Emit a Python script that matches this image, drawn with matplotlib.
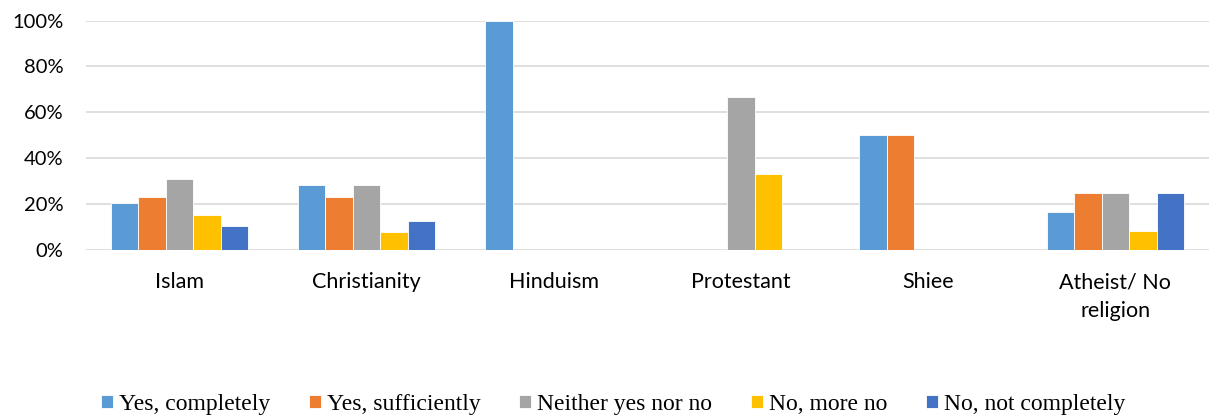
import numpy as np
from matplotlib import pyplot as plt
from matplotlib.ticker import PercentFormatter

categories = ["Islam", "Christianity", "Hinduism", "Protestant", "Shiee", "Atheist/ No\nreligion"]
series = ["Yes, completely", "Yes, sufficiently", "Neither yes nor no", "No, more no", "No, not completely"]
yes_completely = [20.5, 28.2, 100, 0, 50, 16.7]
yes_sufficiently = [23.1, 23.1, 0, 0, 50, 25.0]
neither = [30.8, 28.2, 0, 66.7, 0, 25.0]
no_more_no = [15.4, 7.7, 0, 33.3, 0, 8.3]
no_not_completely = [10.3, 12.8, 0, 0, 0, 25.0]
colors = ["#5B9BD5", "#ED7D31", "#A5A5A5", "#FFC000", "#4472C4"]

values = [yes_completely, yes_sufficiently, neither, no_more_no, no_not_completely]

fig = plt.figure(figsize=(12.09, 4.19), dpi=100)
ax = fig.add_axes([0.071, 0.403, 0.929, 0.548])

x = np.arange(len(categories))
w = 0.147
for i, (name, vals, c) in enumerate(zip(series, values, colors)):
    ax.bar(x + (i - 2) * w, np.array(vals) / 100, w, color=c, label=name,
           edgecolor="white", linewidth=0.6, zorder=3)

ax.set_xlim(-0.5, len(categories) - 0.5)
ax.set_ylim(0, 1)
ax.set_yticks(np.arange(0, 1.01, 0.2))
ax.yaxis.set_major_formatter(PercentFormatter(1.0, decimals=0))
ax.set_xticks(x)
ax.set_xticklabels(categories, fontfamily="Lato", fontsize=15.5, linespacing=1.55)
ax.tick_params(axis="x", length=0, pad=16)
ax.tick_params(axis="y", length=0, pad=16, labelsize=14.5)
for lab in ax.get_yticklabels():
    lab.set_fontfamily("Lato")
ax.grid(axis="y", color="#D9D9D9", linewidth=1.2, zorder=0)
for s in ax.spines.values():
    s.set_visible(False)

fig.legend(loc="center", bbox_to_anchor=(0.507, 0.035), ncol=5, frameon=False,
           prop={"family": "Liberation Serif", "size": 17},
           handlelength=0.5, handleheight=0.5, handletextpad=0.25, columnspacing=1.65)

fig.savefig("out.png", dpi=100)
